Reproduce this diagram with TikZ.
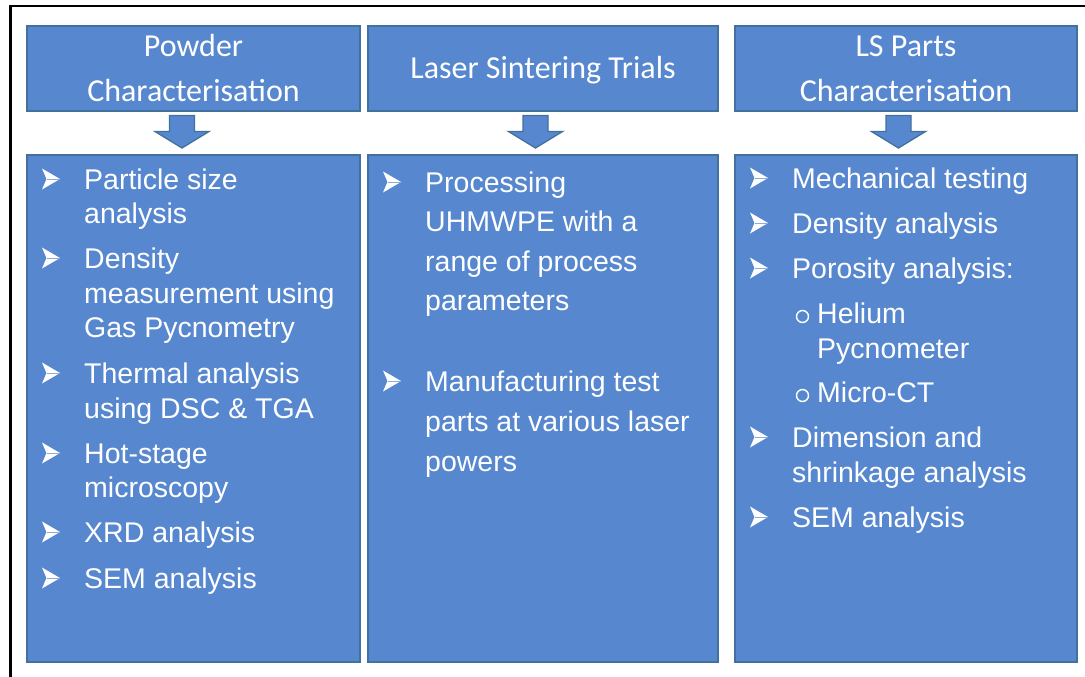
\documentclass[tikz,border=0pt]{standalone}
\usepackage{fontspec}
\setmainfont{Liberation Sans}
\newfontfamily\hdfont{Carlito}
\definecolor{boxfill}{RGB}{86,135,207}
\definecolor{boxline}{RGB}{65,113,156}
\begin{document}
\begin{tikzpicture}[x=1pt,y=-1pt,
  panel/.style={draw=boxline, line width=1.3pt, fill=boxfill},
  boxnode/.style={panel, anchor=north west, inner sep=0pt, outer sep=0pt},
  head/.style={text=white, inner sep=0pt, anchor=base, font=\hdfont\fontsize{32}{38}\selectfont},
  item/.style={text=white, inner sep=0pt, anchor=base west, font=\fontsize{28.5}{34}\selectfont},
  downarrow/.pic={\draw[panel] (-12.5,0) -- (12.5,0) -- (12.5,16) -- (27,16) -- (0,32.5) -- (-27,16) -- (-12.5,16) -- cycle;},
  arrowbullet/.pic={
    \fill[white] (0,-10.5) -- (18,0) -- (0,10.5) -- (4.5,0) -- cycle;
    \draw[boxfill!70!white, line width=0.6pt] (4.5,0) -- (17,0);},
  ringbullet/.style={draw=white, line width=1.4pt}
]
\useasboundingbox (0,0) rectangle (1085,677);
\fill[white] (0,0) rectangle (1085,677);

% frame round the chart
\draw[black, line width=2.6pt] (10.5,680) -- (10.5,6) -- (1090,6);

% header boxes
\node[boxnode, minimum width=333pt, minimum height=85pt] (h1) at (27,26) {};
\node[boxnode, minimum width=350pt, minimum height=85pt] (h2) at (368,26) {};
\node[boxnode, minimum width=342pt, minimum height=85pt] (h3) at (735,26) {};

% body boxes
\node[boxnode, minimum width=333pt, minimum height=507pt] (b1) at (27,155) {};
\node[boxnode, minimum width=350pt, minimum height=507pt] (b2) at (368,155) {};
\node[boxnode, minimum width=342pt, minimum height=507pt] (b3) at (735,155) {};

% block arrows from headers to bodies
\pic at (182,115.5) {downarrow};
\pic at (535.5,115.5) {downarrow};
\pic at (898.5,115.5) {downarrow};

% header titles
\node[head] (t1a) at (193.5,57) {Powder};
\node[head] (t1b) at (193.5,102) {Characterisation};
\node[head] (t2a) at (543,79) {Laser Sintering Trials};
\node[head] (t3a) at (906,57) {LS Parts};
\node[head] (t3b) at (906,102) {Characterisation};

% column 1: powder characterisation
\foreach \y in {189,268,383,463,542,588} \pic at (42,\y-10) {arrowbullet};
\node[item] (p1) at (84,189) {Particle size};
\node[item] (p1b) at (84,223) {analysis};
\node[item] (p2) at (84,268) {Density};
\node[item] (p2b) at (84,303) {measurement using};
\node[item] (p2c) at (84,337) {Gas Pycnometry};
\node[item] (p3) at (84,383) {Thermal analysis};
\node[item] (p3b) at (84,418) {using DSC \& TGA};
\node[item] (p4) at (84,463) {Hot-stage};
\node[item] (p4b) at (84,497) {microscopy};
\node[item] (p5) at (84,542) {XRD analysis};
\node[item] (p6) at (84,588) {SEM analysis};

% column 2: laser sintering trials
\foreach \y in {192,391} \pic at (383,\y-10) {arrowbullet};
\node[item] (s1) at (425,192) {Processing};
\node[item] (s1b) at (425,231.5) {UHMWPE with a};
\node[item] (s1c) at (425,271) {range of process};
\node[item] (s1d) at (425,310.5) {parameters};
\node[item] (s2) at (425,391) {Manufacturing test};
\node[item] (s2b) at (425,431) {parts at various laser};
\node[item] (s2c) at (425,471) {powers};

% column 3: LS parts characterisation
\foreach \y in {188,233,278,447,527} \pic at (750,\y-10) {arrowbullet};
\node[item] (c1) at (792,188) {Mechanical testing};
\node[item] (c2) at (792,233) {Density analysis};
\node[item] (c3) at (792,278) {Porosity analysis:};
\draw[ringbullet] (802.5,316.5) circle (6pt);
\node[item] (c3a) at (817,323) {Helium};
\node[item] (c3b) at (817,358) {Pycnometer};
\draw[ringbullet] (802.5,395.5) circle (6pt);
\node[item] (c3c) at (817,402) {Micro-CT};
\node[item] (c4) at (792,447) {Dimension and};
\node[item] (c4b) at (792,482) {shrinkage analysis};
\node[item] (c5) at (792,527) {SEM analysis};
\end{tikzpicture}
\end{document}
